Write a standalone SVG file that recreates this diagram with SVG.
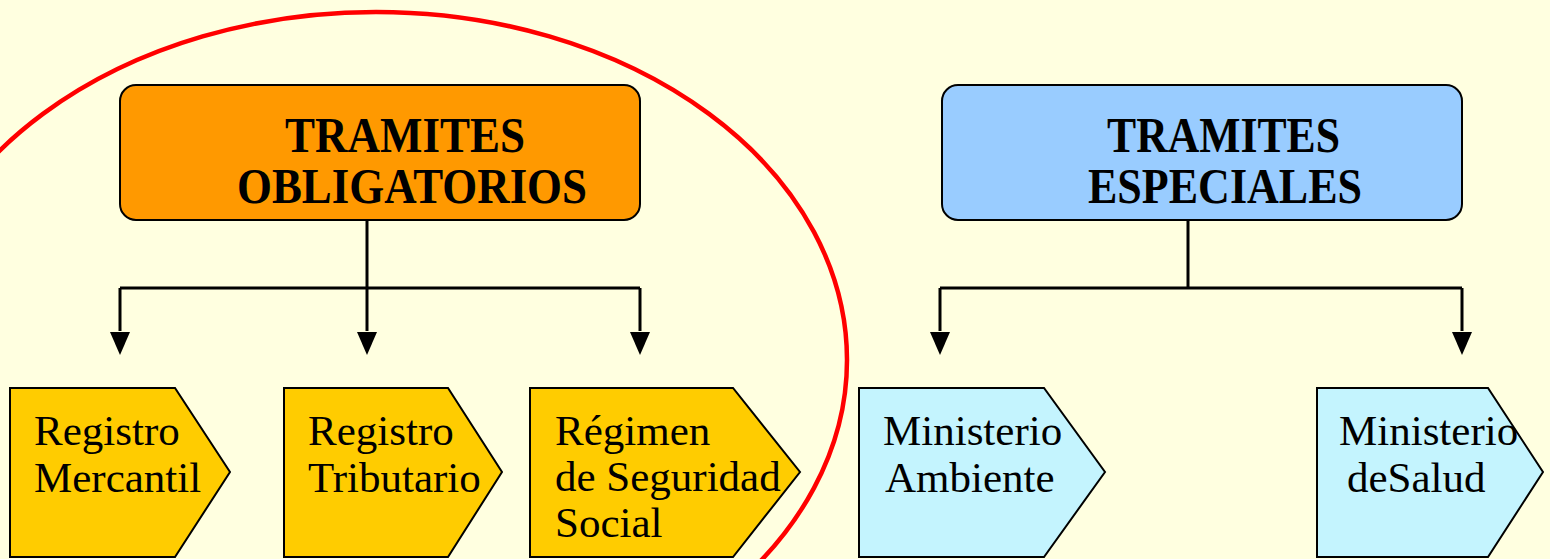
<svg xmlns="http://www.w3.org/2000/svg" width="1550" height="559" viewBox="0 0 1550 559">
<defs>
<style>
.hdr{font-family:"Liberation Serif","Times New Roman",serif;font-weight:bold;font-size:50px;fill:#000}
.lbl{font-family:"Liberation Serif","Times New Roman",serif;font-size:43px;fill:#000}
.box{stroke:#000;stroke-width:2}
.conn{fill:none;stroke:#000;stroke-width:3}
.head{fill:#000}
</style>
</defs>
<rect width="1550" height="559" fill="#FFFFE0"/>
<ellipse cx="376" cy="360" rx="471" ry="348" fill="none" stroke="#FF0000" stroke-width="4.5"/>
<g id="connectors">
<path class="conn" d="M367,220 V331"/>
<path class="conn" d="M120,288 H640"/>
<path class="conn" d="M120,288 V331"/>
<path class="conn" d="M640,288 V331"/>
<path class="conn" d="M1188,220 V288"/>
<path class="conn" d="M940,288 H1462"/>
<path class="conn" d="M940,288 V331"/>
<path class="conn" d="M1462,288 V331"/>
<polygon class="head" points="110,332 130,332 120,355"/>
<polygon class="head" points="357,332 377,332 367,355"/>
<polygon class="head" points="630,332 650,332 640,355"/>
<polygon class="head" points="930,332 950,332 940,355"/>
<polygon class="head" points="1452,332 1472,332 1462,355"/>
</g>
<g id="obligatorios">
<rect class="box" x="120" y="85" width="520" height="135" rx="16" fill="#FF9900"/>
<text class="hdr" x="285" y="152" textLength="240" lengthAdjust="spacingAndGlyphs">TRAMITES</text>
<text class="hdr" x="237" y="203" textLength="350" lengthAdjust="spacingAndGlyphs">OBLIGATORIOS</text>
</g>
<g id="especiales">
<rect class="box" x="942" y="85" width="520" height="135" rx="16" fill="#99CCFF"/>
<text class="hdr" x="1107" y="152" textLength="233" lengthAdjust="spacingAndGlyphs">TRAMITES</text>
<text class="hdr" x="1088" y="203" textLength="274" lengthAdjust="spacingAndGlyphs">ESPECIALES</text>
</g>
<g id="mercantil">
<polygon class="box" points="10,388 175,388 230,472 175,557 10,557" fill="#FFCC00"/>
<text class="lbl" x="34" y="445">Registro</text>
<text class="lbl" x="34" y="492">Mercantil</text>
</g>
<g id="tributario">
<polygon class="box" points="284,388 448,388 502,472 448,557 284,557" fill="#FFCC00"/>
<text class="lbl" x="308" y="445">Registro</text>
<text class="lbl" x="308" y="492">Tributario</text>
</g>
<g id="seguridad">
<polygon class="box" points="530,388 733,388 800,472 733,557 530,557" fill="#FFCC00"/>
<text class="lbl" x="555" y="445">Régimen</text>
<text class="lbl" x="555" y="491">de Seguridad</text>
<text class="lbl" x="555" y="537">Social</text>
</g>
<g id="ambiente">
<polygon class="box" points="859,388 1044,388 1105,472 1044,557 859,557" fill="#C4F4FE"/>
<text class="lbl" x="883" y="445">Ministerio</text>
<text class="lbl" x="885" y="492">Ambiente</text>
</g>
<g id="salud">
<polygon class="box" points="1317,388 1488,388 1543,472 1488,557 1317,557" fill="#C4F4FE"/>
<text class="lbl" x="1339" y="445">Ministerio</text>
<text class="lbl" x="1347" y="492">deSalud</text>
</g>
</svg>
